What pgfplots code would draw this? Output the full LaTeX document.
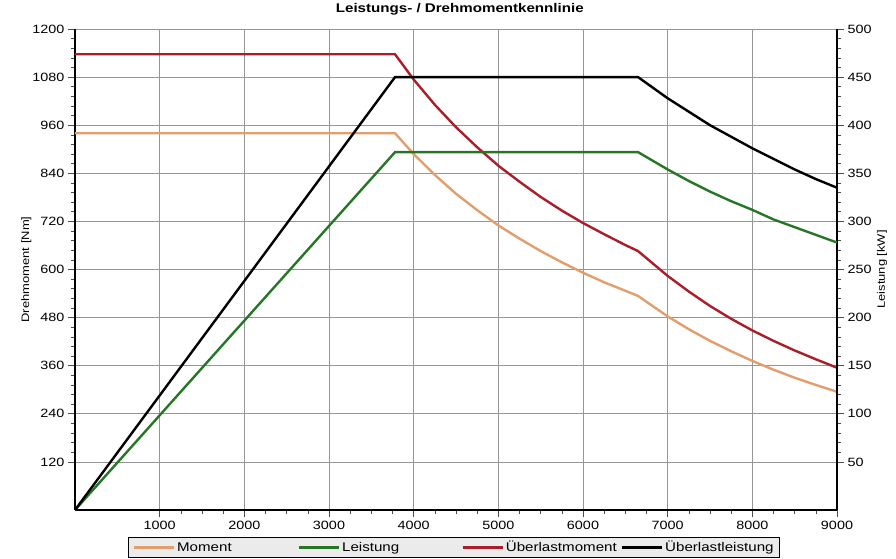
\documentclass[border=0pt]{standalone}
\usepackage{fontspec}
\setmainfont{Liberation Sans}[FakeStretch=1.2]
\usepackage{pgfplots}
\pgfplotsset{compat=1.18}
\definecolor{cMoment}{RGB}{226,158,108}
\definecolor{cLeist}{RGB}{38,118,38}
\definecolor{cUeM}{RGB}{170,30,42}
\definecolor{cGrid}{RGB}{150,150,150}
\newcommand\tkfont{\fontsize{12bp}{13bp}\selectfont}
\newcommand\legfont{\fontsize{12.6bp}{14bp}\selectfont}
\newcommand\labfont{\fontsize{10.8bp}{12bp}\selectfont}
\pgfplotsset{
  common/.style={
    scale only axis, width=762bp, height=481bp,
    xmin=0, xmax=9000,
    tick align=outside,
    major tick length=7bp, minor tick length=4bp,
    tick style={black!70, line width=0.6bp},
    axis line style={line width=1.6bp, black},
    /pgf/number format/assume math mode=true,
    /pgf/number format/1000 sep={},
    ticklabel style={font=\tkfont},
    legend image code/.code={\draw[#1] (0bp,0bp) -- (40bp,0bp);},
  },
}
\begin{document}
\begin{tikzpicture}
\useasboundingbox (-75bp,-49bp) rectangle (821bp,510bp);
\begin{axis}[common,
  axis y line*=left, axis x line*=bottom,
  ymin=0, ymax=1200,
  xtick={1000,2000,...,9000},
  ytick={120,240,...,1200},
  minor x tick num=3, minor y tick num=4,
  grid=major, major grid style={cGrid, line width=0.8bp},
  ylabel={Drehmoment [Nm]},
  ylabel style={font=\labfont, at={(axis description cs:-0.064,0.5)}, anchor=center, rotate=0},
  title={Leistungs- / Drehmomentkennlinie},
  title style={font=\fontsize{12.6bp}{14bp}\selectfont\bfseries, at={(axis description cs:0.505,1)}, anchor=base, inner sep=0pt, yshift=11bp},
  xticklabel style={yshift=-1bp},
]
\addplot[cMoment, line width=2.4bp] coordinates {
(0,940)(3780,940)(4000,888)(4250,836)(4500,789)(4750,748)(5000,710)(5250,677)(5500,646)(5750,618)(6000,592)(6250,568)(6500,547)(6650,534)(7000,483)(7250,451)(7500,422)(7750,396)(8000,372)(8250,350)(8500,330)(8750,312)(9000,295)};
\addplot[cUeM, line width=2.4bp] coordinates {
(0,1137)(3780,1137)(4000,1074)(4250,1011)(4500,955)(4750,905)(5000,859)(5250,819)(5500,781)(5750,747)(6000,716)(6250,688)(6500,661)(6650,646)(7000,584)(7250,545)(7500,509)(7750,477)(8000,448)(8250,422)(8500,398)(8750,376)(9000,355)};
\end{axis}
\begin{axis}[common,
  axis y line*=right, axis x line=none,
  ymin=0, ymax=500,
  ytick={50,100,...,500},
  minor y tick num=4,
  ylabel={Leistung [kW]},
  ylabel style={font=\labfont, at={(axis description cs:1.059,0.5)}, anchor=center, rotate=0},
  legend columns=4,
  legend style={at={(axis description cs:0.0696,-0.056)}, anchor=north west,
    draw=black, fill=black!8, line width=1bp, font=\legfont,
    inner xsep=4bp, inner ysep=2bp,
    /tikz/column 2/.style={column sep=64bp},
    /tikz/column 4/.style={column sep=60bp},
    /tikz/column 6/.style={column sep=2bp},
  },
]
\addlegendimage{cMoment, line width=2.6bp}
\addlegendentry{Moment}
\addplot[cLeist, line width=2.4bp] coordinates {
(0,0)(3780,372)(6650,372)(7000,354)(7250,342)(7500,331)(7750,321)(8000,312)(8250,302)(8500,294)(8750,286)(9000,278)};
\addlegendentry{Leistung}
\addlegendimage{cUeM, line width=2.6bp}
\addlegendentry{Überlastmoment}
\addplot[black, line width=2.4bp] coordinates {
(0,0)(3780,450)(6650,450)(7000,428)(7250,414)(7500,400)(7750,388)(8000,376)(8250,365)(8500,354)(8750,344)(9000,335)};
\addlegendentry{Überlastleistung}
\end{axis}
\end{tikzpicture}
\end{document}
